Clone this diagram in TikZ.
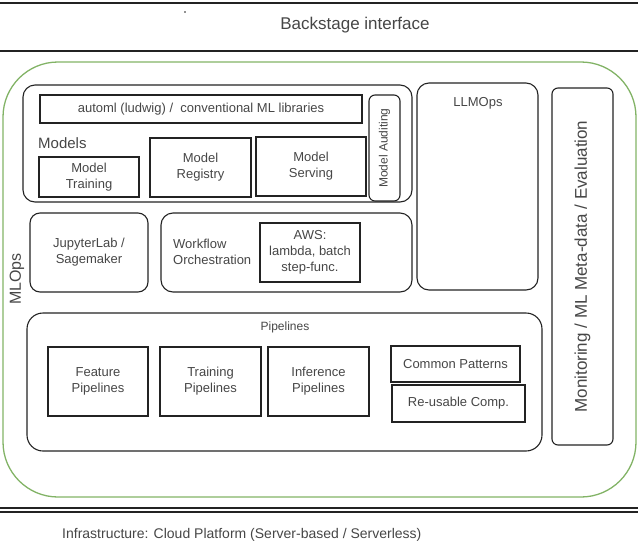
\documentclass[tikz,border=0pt]{standalone}
\usepackage{fontspec}
\setmainfont{Liberation Sans}
\definecolor{mlgreen}{RGB}{130,179,102}
\definecolor{ink}{RGB}{35,35,35}
\definecolor{txt}{RGB}{70,70,70}

\begin{document}
\begin{tikzpicture}[x=1pt,y=-1pt,
    box/.style={draw=ink, line width=1.1pt, align=center, inner sep=1pt, text=txt, font=\fontsize{13}{16}\selectfont},
    rbox/.style={box, rounded corners=6pt},
    cont/.style={draw=ink, line width=1.1pt, rounded corners=12pt},
    lbl/.style={text=txt, font=\fontsize{13}{16}\selectfont, align=center, inner sep=0pt}]
    \useasboundingbox (0,0) rectangle (638,555);
    % top layer
    \draw[ink, line width=1.4pt] (0,3)--(638,3);
    \draw[ink, line width=1.4pt] (0,51)--(638,51);
    \node[lbl, font=\fontsize{17}{20}\selectfont] (backstage) at (355,25) {Backstage interface};
    \fill[ink] (185,12) circle (0.8);
    % MLOps frame
    \draw[mlgreen, line width=1.3pt, rounded corners=55pt] (3,62) rectangle (636,497);
    \node[lbl, rotate=90, font=\fontsize{16}{19}\selectfont] (mlops) at (17,279) {MLOps};
    % models
    \draw[cont] (23,85) rectangle (412,202);
    \node[box, minimum width=322, minimum height=28] (automl) at (201,109) {automl (ludwig) /\ \ conventional ML libraries};
    \node[rbox, rotate=90, minimum width=106, minimum height=31, font=\fontsize{12}{14}\selectfont] (audit) at (384.5,148) {Model Auditing};
    \node[lbl, anchor=west, font=\fontsize{15}{18}\selectfont] (models) at (38,143) {Models};
    \node[box, minimum width=100, minimum height=40] (mtrain) at (89,177) {Model\\Training};
    \node[box, minimum width=101, minimum height=59] (mreg) at (200.5,167.5) {Model\\Registry};
    \node[box, minimum width=110, minimum height=59] (mserve) at (311,166.5) {Model\\Serving};
    % notebooks and orchestration
    \node[rbox, rounded corners=10pt, minimum width=118, minimum height=79] (jupyter) at (89,252.5) {JupyterLab /\\Sagemaker};
    \draw[cont] (161,213) rectangle (412,292);
    \node[lbl, anchor=west, align=left] (workflow) at (173,252) {Workflow\\Orchestration};
    \node[box, minimum width=100, minimum height=59] (aws) at (310,252.5) {AWS:\\lambda, batch\\step-func.};
    % LLMOps
    \draw[cont] (417,83) rectangle (538,290);
    \node[lbl] (llmops) at (478,103) {LLMOps};
    % monitoring column
    \node[rbox, rotate=90, minimum width=357, minimum height=61, font=\fontsize{17}{20}\selectfont] (monitor) at (582.5,266.5) {Monitoring / ML Meta-data / Evaluation};
    % pipelines
    \draw[cont, rounded corners=16pt] (27,313) rectangle (542,451);
    \node[lbl, font=\fontsize{12}{14}\selectfont] (pipelines) at (285,327) {Pipelines};
    \node[box, minimum width=100, minimum height=69] (featp) at (98,381.5) {Feature\\Pipelines};
    \node[box, minimum width=101, minimum height=69] (trainp) at (210.5,381.5) {Training\\Pipelines};
    \node[box, minimum width=101, minimum height=69] (inferp) at (318.5,381.5) {Inference\\Pipelines};
    \node[box, minimum width=129, minimum height=36] (patterns) at (455.5,364) {Common Patterns};
    \node[box, minimum width=133, minimum height=37] (reuse) at (458.5,403.5) {Re-usable Comp.};
    % infrastructure layer
    \draw[ink, line width=1.2pt] (0,508)--(638,508);
    \draw[ink, line width=1.2pt] (0,512)--(638,512);
    \node[lbl, anchor=west, font=\fontsize{14}{17}\selectfont] (infra) at (62,535) {Infrastructure: Cloud Platform (Server-based / Serverless)};
\end{tikzpicture}
\end{document}
